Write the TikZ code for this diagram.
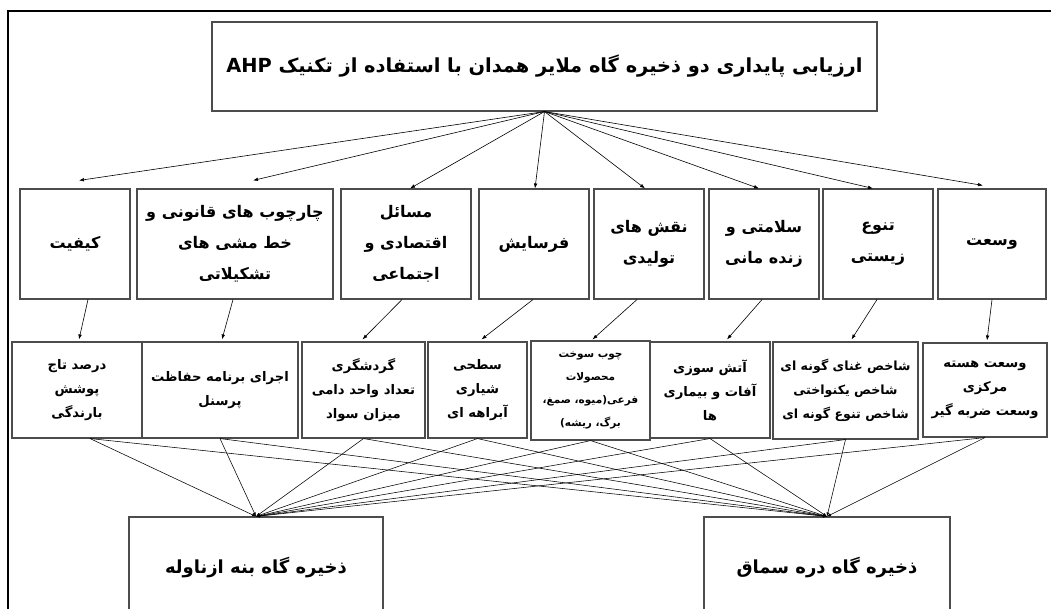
\documentclass[tikz,border=0pt]{standalone}
\usepackage{fontspec}
\usetikzlibrary{arrows.meta,calc}
\TeXXeTstate=1
\setmainfont{DejaVu Sans}
\newfontfamily\fa[Script=Arabic]{DejaVu Sans}
\newcommand\RL[1]{\beginR #1\endR}
\tikzset{
  frame/.style={line width=1.2pt, black},
  box/.style={draw=black!70, line width=1.1pt, rectangle, inner sep=2pt, align=center, text=black},
  critbox/.style={box, minimum height=110pt, font=\fa\bfseries\fontsize{16}{31}\selectfont},
  indbox/.style={box, font=\fa\bfseries\fontsize{13.2}{24}\selectfont},
  botbox/.style={box, minimum height=110pt, font=\fa\bfseries\fontsize{18}{24}\selectfont},
  tip/.style={-{Latex[length=5pt,width=3.6pt]}, line width=0.6pt, black},
  link/.style={-{Latex[length=4pt,width=3pt]}, line width=0.55pt, black}
}
\begin{document}
\begin{tikzpicture}[x=1pt,y=-1pt]
\useasboundingbox (0,0) rectangle (1051,608);
% outer frame
\draw[frame] (8,640) -- (8,11) -- (1070,11);
% title
\node[box, minimum width=665pt, minimum height=89pt, font=\fa\bfseries\fontsize{19.4}{24}\selectfont] (t) at (544.5,66.5)
  {\RL{ارزیابی پایداری دو ذخیره گاه ملایر همدان با استفاده از تکنیک \beginL AHP\endL}};
% criteria
\node[critbox, minimum width=110pt] (c1) at (75,244) {\RL{کیفیت}};
\node[critbox, minimum width=196pt] (c2) at (235,244) {\RL{چارچوب های قانونی و}\\\RL{خط مشی های}\\\RL{تشکیلاتی}};
\node[critbox, minimum width=130pt] (c3) at (406,244) {\RL{مسائل}\\\RL{اقتصادی و}\\\RL{اجتماعی}};
\node[critbox, minimum width=110pt] (c4) at (534,244) {\RL{فرسایش}};
\node[critbox, minimum width=110pt] (c5) at (649,244) {\RL{نقش های}\\\RL{تولیدی}};
\node[critbox, minimum width=110pt] (c6) at (764,244) {\RL{سلامتی و}\\\RL{زنده مانی}};
\node[critbox, minimum width=110pt] (c7) at (878,244) {\RL{تنوع}\\\RL{زیستی}};
\node[critbox, minimum width=108pt] (c8) at (992,244) {\RL{وسعت}};
% indicators
\node[indbox, minimum width=130pt, minimum height=96pt] (i1) at (77,390) {\RL{درصد تاج}\\\RL{پوشش}\\\RL{بارندگی}};
\node[indbox, minimum width=156pt, minimum height=96pt] (i2) at (220,390) {\RL{اجرای برنامه حفاظت}\\\RL{پرسنل}};
\node[indbox, minimum width=123pt, minimum height=96pt] (i3) at (363.5,390) {\RL{گردشگری}\\\RL{تعداد واحد دامی}\\\RL{میزان سواد}};
\node[indbox, minimum width=99pt, minimum height=96pt] (i4) at (477.5,390) {\RL{سطحی}\\\RL{شیاری}\\\RL{آبراهه ای}};
\node[indbox, minimum width=119pt, minimum height=99pt, font=\fa\bfseries\fontsize{10.5}{23}\selectfont] (i5) at (590.5,390.5) {\RL{چوب سوخت}\\\RL{محصولات}\\\RL{فرعی(میوه، صمغ،}\\\RL{برگ، ریشه)}};
\node[indbox, minimum width=120pt, minimum height=96pt] (i6) at (710,390) {\RL{آتش سوزی}\\\RL{آفات و بیماری}\\\RL{ها}};
\node[indbox, minimum width=145pt, minimum height=97pt, font=\fa\bfseries\fontsize{12.6}{24}\selectfont] (i7) at (845.5,390.5) {\RL{شاخص غنای گونه ای}\\\RL{شاخص یکنواختی}\\\RL{شاخص تنوع گونه ای}};
\node[indbox, minimum width=124pt, minimum height=94pt] (i8) at (985,390) {\RL{وسعت هسته}\\\RL{مرکزی}\\\RL{وسعت ضربه گیر}};
% alternatives
\node[botbox, minimum width=254pt] (b1) at (256,572) {\raisebox{14pt}{\RL{ذخیره گاه بنه ازناوله}}};
\node[botbox, minimum width=246pt] (b2) at (827,572) {\raisebox{14pt}{\RL{ذخیره گاه دره سماق}}};
% goal -> criteria
\coordinate (o) at (t.south);
\draw[tip] (o) -- ($(c1.north)+(4,-8)$);
\draw[tip] (o) -- ($(c2.north)+(18,-8)$);
\draw[tip] (o) -- ($(c3.north)+(4,0)$);
\draw[tip] (o) -- ($(c4.north)+(1,0)$);
\draw[tip] (o) -- ($(c5.north)+(-4,0)$);
\draw[tip] (o) -- ($(c6.north)+(-5,0)$);
\draw[tip] (o) -- ($(c7.north)+(-5,0)$);
\draw[tip] (o) -- ($(c8.north)+(-9,-3)$);
% criteria -> indicators
\draw[tip] ($(c1.south)+(13,0)$) -- ($(i1.north)+(2,-2)$);
\draw[tip] ($(c2.south)+(-2,0)$) -- ($(i2.north)+(2,-2)$);
\draw[tip] ($(c3.south)+(-4,0)$) -- ($(i3.north)+(-1,-2)$);
\draw[tip] ($(c4.south)+(-1,0)$) -- ($(i4.north)+(4,-2)$);
\draw[tip] ($(c5.south)+(-12,0)$) -- ($(i5.north)+(2,-1)$);
\draw[tip] ($(c6.south)+(-2,0)$) -- ($(i6.north)+(17,-2)$);
\draw[tip] ($(c7.south)+(-1,0)$) -- ($(i7.north)+(6,-2)$);
\draw[tip] ($(c8.south)+(0,0)$) -- ($(i8.north)+(2,-2)$);
% indicators -> alternatives
\draw[link] ($(i1.south)+(13,0)$) -- (b1.north);
\draw[link] ($(i1.south)+(13,0)$) -- (b2.north);
\foreach \k in {2,...,8}{
  \draw[link] (i\k.south) -- (b1.north);
  \draw[link] (i\k.south) -- (b2.north);
}
\end{tikzpicture}
\end{document}
